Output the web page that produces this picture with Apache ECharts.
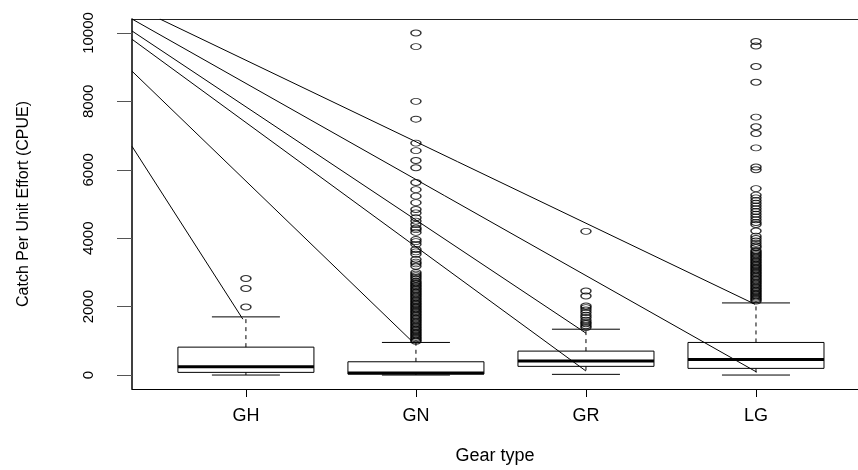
<!DOCTYPE html>
<html>
<head>
<meta charset="utf-8">
<script src="https://cdn.jsdelivr.net/npm/echarts@6/dist/echarts.min.js"></script>
<style>
html,body{margin:0;padding:0;background:#fff;}
#chart{width:858px;height:470px;}
</style>
</head>
<body>
<div id="chart"></div>
<script>
// ---- data ----
var categories = ['GH', 'GN', 'GR', 'LG'];
var lowerWhisker = [0, 0, 20, 0];
var q1 = [78, 29, 254, 195];
var median = [242, 60, 408, 457];
var q3 = [816, 388, 700, 953];
var upperWhisker = [1700, 953, 1340, 2108];

var ghOutliers = [1990, 2530, 2820];
var gnOutliers = [10000, 9600, 8000, 7480, 6780, 6560, 6270, 6060, 5630, 5420, 5230, 5040, 4840, 4740,
  4600, 4500, 4400, 4300, 4250, 4170, 3960, 3900, 3820, 3670, 3600, 3530, 3380, 3300, 3250, 3180,
  3000, 2950, 2900, 2850, 2800, 2740, 2700, 2660, 2620, 2580, 2540, 2500, 2460, 2420, 2380, 2340,
  2300, 2260, 2220, 2180, 2140, 2100, 2060, 2020, 1980, 1940, 1900, 1860, 1820, 1780, 1740, 1700,
  1660, 1620, 1580, 1540, 1500, 1460, 1420, 1380, 1340, 1300, 1260, 1220, 1180, 1140, 1100, 1060,
  1020, 990];
var grOutliers = [1390, 1440, 1500, 1540, 1600, 1680, 1750, 1830, 1900, 1970, 2020, 2310, 2455, 4200];
var lgOutliers = [9750, 9620, 9020, 8560, 7540, 7260, 7060, 6640, 6080, 6000, 5450, 5260, 5180, 5100,
  5020, 4940, 4860, 4780, 4700, 4620, 4540, 4460, 4400, 4210, 4060, 3990, 3920, 3850, 3780, 3730,
  3640, 3600, 3560, 3520, 3480, 3440, 3400, 3360, 3320, 3280, 3240, 3200, 3160, 3120, 3080, 3040,
  3000, 2960, 2920, 2880, 2840, 2800, 2760, 2720, 2680, 2640, 2600, 2560, 2520, 2480, 2440, 2400,
  2360, 2320, 2280, 2240, 2200, 2160];

// annotation lines (x in category position units, y in CPUE)
var lineStartX = [0.330, 0.330, 0.330, 0.330, 0.330, 0.494];
var lineStartY = [6685, 8883, 10058, 9816, 10408, 10408];
var lineEndX = [0.982, 1.976, 3.0, 3.0, 4.004, 3.994];
var lineEndY = [1633, 991, 1224, 117, 87, 2070];

var yTicks = [0, 2000, 4000, 6000, 8000, 10000];
var xTicks = [1, 2, 3, 4];

// ---- build ----
var boxData = categories.map(function (c, i) {
  return [i + 1, lowerWhisker[i], q1[i], median[i], q3[i], upperWhisker[i]];
});
var allOut = [ghOutliers, gnOutliers, grOutliers, lgOutliers];
var outData = [];
allOut.forEach(function (arr, i) {
  arr.forEach(function (v) { outData.push([i + 1, v]); });
});

var BOX_HALF = 0.4, CAP_HALF = 0.2;
function renderBox(params, api) {
  var x = api.value(0), lw = api.value(1), b1 = api.value(2), md = api.value(3), b3 = api.value(4), uw = api.value(5);
  var tl = api.coord([x - BOX_HALF, b3]);
  var br = api.coord([x + BOX_HALF, b1]);
  var mL = api.coord([x - BOX_HALF, md]);
  var mR = api.coord([x + BOX_HALF, md]);
  var c = api.coord([x, 0])[0];
  var capL = api.coord([x - CAP_HALF, uw]);
  var capR = api.coord([x + CAP_HALF, uw]);
  var lcapL = api.coord([x - CAP_HALF, lw]);
  var lcapR = api.coord([x + CAP_HALF, lw]);
  var yb1 = br[1], yb3 = tl[1];
  var solid = {stroke: '#000', lineWidth: 1, fill: null};
  var dashed = {stroke: '#000', lineWidth: 1, lineDash: [4, 4], fill: null};
  return {
    type: 'group',
    children: [
      {type: 'line', shape: {x1: c, y1: yb3, x2: c, y2: capL[1]}, style: dashed},
      {type: 'line', shape: {x1: c, y1: yb1, x2: c, y2: lcapL[1]}, style: dashed},
      {type: 'line', shape: {x1: capL[0], y1: capL[1], x2: capR[0], y2: capR[1]}, style: solid},
      {type: 'line', shape: {x1: lcapL[0], y1: lcapL[1], x2: lcapR[0], y2: lcapR[1]}, style: solid},
      {type: 'rect', shape: {x: tl[0], y: tl[1], width: br[0] - tl[0], height: br[1] - tl[1]}, style: {stroke: '#000', lineWidth: 1, fill: 'none'}},
      {type: 'line', shape: {x1: mL[0], y1: mL[1], x2: mR[0], y2: mR[1]}, style: {stroke: '#000', lineWidth: 3}}
    ]
  };
}

var series = [
  {
    type: 'custom',
    renderItem: renderBox,
    data: boxData,
    silent: true,
    z: 3
  },
  {
    type: 'scatter',
    data: outData,
    symbol: 'circle',
    symbolSize: [10, 6],
    itemStyle: {color: 'rgba(0,0,0,0)', borderColor: '#000', borderWidth: 1.2},
    silent: true,
    z: 4
  }
];
for (var k = 0; k < lineStartX.length; k++) {
  series.push({
    type: 'line',
    data: [[lineStartX[k], lineStartY[k]], [lineEndX[k], lineEndY[k]]],
    symbol: 'none',
    lineStyle: {color: '#000', width: 1},
    silent: true,
    clip: true,
    z: 5
  });
}

var FONT = 'Liberation Sans, Arial, sans-serif';
var chart = echarts.init(document.getElementById('chart'), null, {renderer: 'canvas'});
chart.setOption({
  animation: false,
  backgroundColor: '#fff',
  grid: {left: 132, top: 19, right: 0, bottom: 80, containLabel: false},
  xAxis: [{
    type: 'value',
    min: 0.33,
    max: 4.6,
    position: 'bottom',
    splitLine: {show: false},
    axisLine: {show: true, onZero: false, lineStyle: {color: '#000', width: 1}},
    axisTick: {show: true, length: 8, customValues: xTicks, lineStyle: {color: '#000'}},
    axisLabel: {
      customValues: xTicks,
      margin: 18,
      fontSize: 18,
      color: '#000',
      fontFamily: FONT,
      formatter: function (v) { return categories[Math.round(v) - 1] || ''; }
    },
    name: 'Gear type',
    nameLocation: 'middle',
    nameGap: 58,
    nameTextStyle: {fontSize: 18, color: '#000', fontFamily: FONT}
  }, {
    type: 'value',
    min: 0.33,
    max: 4.6,
    position: 'top',
    splitLine: {show: false},
    axisLine: {show: true, onZero: false, lineStyle: {color: '#222', width: 1}},
    axisTick: {show: false},
    axisLabel: {show: false}
  }],
  yAxis: {
    type: 'value',
    min: -408,
    max: 10408,
    splitLine: {show: false},
    axisLine: {show: true, onZero: false, lineStyle: {color: '#000', width: 1.5}},
    axisTick: {show: true, length: 15, customValues: yTicks, lineStyle: {color: '#555'}},
    axisLabel: {
      customValues: yTicks,
      rotate: 90,
      margin: 36,
      fontSize: 15,
      color: '#000',
      fontFamily: FONT,
      formatter: function (v) { return String(v); }
    },
    name: 'Catch Per Unit Effort (CPUE)',
    nameLocation: 'middle',
    nameRotate: 90,
    nameGap: 100,
    nameTextStyle: {fontSize: 16, color: '#000', fontFamily: FONT}
  },
  series: series
});
</script>
</body>
</html>
